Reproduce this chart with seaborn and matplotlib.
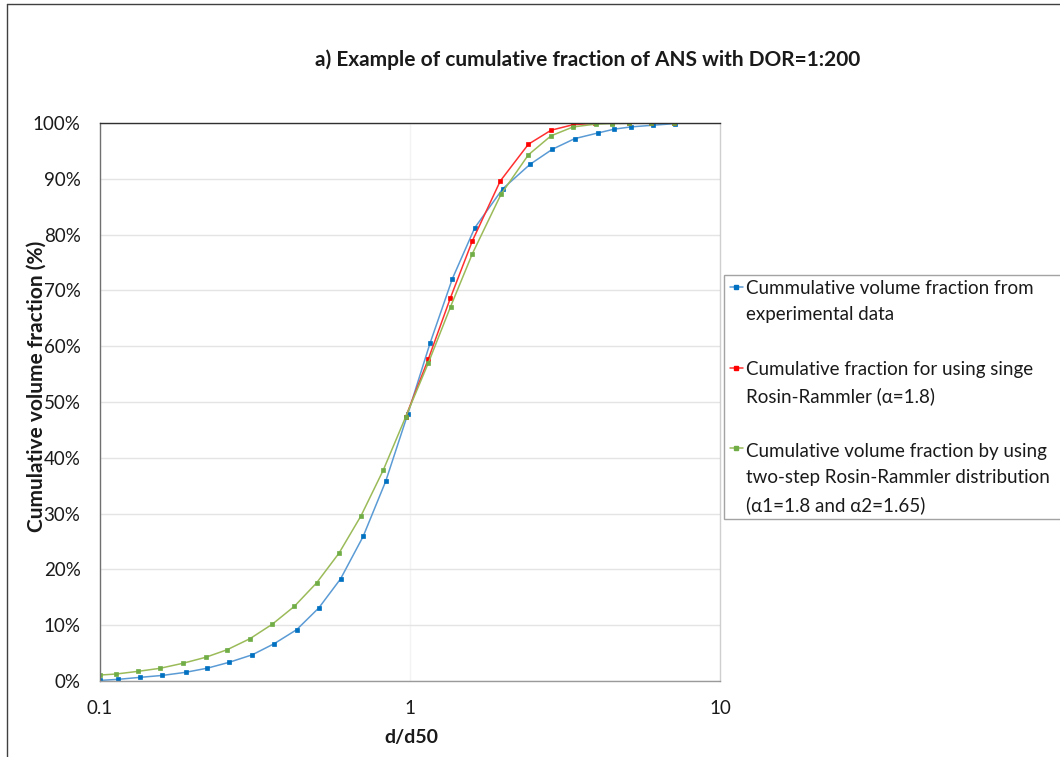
import matplotlib
matplotlib.use("Agg")
import matplotlib.pyplot as plt
from matplotlib.lines import Line2D
from matplotlib.legend_handler import HandlerLine2D
from matplotlib.ticker import FixedLocator, FuncFormatter, NullLocator
import numpy as np
import seaborn as sns
import pandas as pd

# d/d50 and cumulative volume fraction (%) for each series
exp_x = [0.1, 0.1145, 0.135, 0.159, 0.189, 0.222, 0.261, 0.310, 0.365, 0.431,
         0.508, 0.597, 0.706, 0.835, 0.983, 1.16, 1.37, 1.617, 1.99, 2.44,
         2.88, 3.40, 4.03, 4.56, 5.16, 6.08, 7.18]
exp_y = [0.1, 0.3, 0.66, 1.0, 1.56, 2.3, 3.35, 4.7, 6.7, 9.2,
         13.1, 18.3, 25.9, 35.8, 47.8, 60.5, 72.1, 81.2, 88.2, 92.6,
         95.3, 97.2, 98.2, 98.9, 99.3, 99.6, 99.9]

single_x = [0.968, 1.146, 1.349, 1.59, 1.955, 2.41, 2.85, 3.36, 3.95,
            4.49, 5.07, 5.97, 7.1]
single_y = [47.3, 57.7, 68.6, 78.9, 89.6, 96.2, 98.7, 99.7, 99.95,
            100.0, 100.0, 100.0, 100.0]

two_x = [0.1, 0.1127, 0.133, 0.156, 0.185, 0.219, 0.257, 0.305, 0.360, 0.424,
         0.500, 0.590, 0.695, 0.820, 0.968, 1.146, 1.352, 1.59, 1.965, 2.41,
         2.85, 3.36, 3.97, 4.49, 5.07, 5.97, 7.1]
two_y = [1.07, 1.25, 1.74, 2.27, 3.17, 4.24, 5.6, 7.6, 10.2, 13.4,
         17.6, 22.9, 29.6, 37.8, 47.3, 57.0, 67.1, 76.6, 87.2, 94.3,
         97.7, 99.3, 99.8, 99.9, 99.95, 100.0, 100.0]

labels = [
    "Cummulative volume fraction from\nexperimental data",
    "Cumulative fraction for using singe\nRosin-Rammler (\u03b1=1.8)",
    "Cumulative volume fraction by using\ntwo-step Rosin-Rammler distribution\n(\u03b11=1.8 and \u03b12=1.65)",
]
x_ticks = [0.1, 1, 10]
x_tick_labels = ["0.1", "1", "10"]
y_ticks = [0, 10, 20, 30, 40, 50, 60, 70, 80, 90, 100]

sns.set_theme(style="white")
plt.rcParams["font.family"] = ["Lato", "DejaVu Sans"]

FS = 13.5
LINESPACING = 1.65


class FirstLineHandler(HandlerLine2D):
    """Draws the legend key beside the first line of a multi-line label."""

    def __init__(self, nlines, **kw):
        super().__init__(**kw)
        self.nlines = nlines

    def create_artists(self, legend, orig_handle, xdescent, ydescent, width,
                       height, fontsize, trans):
        arts = super().create_artists(legend, orig_handle, xdescent, ydescent,
                                      width, height, fontsize, trans)
        shift = 0.5 * (self.nlines - 1) * fontsize * LINESPACING
        for a in arts:
            a.set_ydata(np.asarray(a.get_ydata(), dtype=float) + shift)
        return arts


fig = plt.figure(figsize=(10.6, 7.57), dpi=100)
W, H = 1060, 757
ax = fig.add_axes([100 / W, 1 - 681 / H, 620 / W, 558 / H])

series = [
    (exp_x, exp_y, "#5b9bd5", "#0070c0"),
    (single_x, single_y, "#ff3030", "#ff0000"),
    (two_x, two_y, "#9bbb59", "#70ad47"),
]
handles = []
for (xs, ys, lc, mc), lab in zip(series, labels):
    df = pd.DataFrame({"d": xs, "F": ys})
    sns.lineplot(data=df, x="d", y="F", ax=ax, sort=False, estimator=None,
                 color=lc, linewidth=1.1, marker="s", markersize=2.3,
                 markerfacecolor=mc, markeredgecolor=mc, markeredgewidth=0.5)
    handles.append(Line2D([0], [0], color=lc, linewidth=1.1, marker="s",
                          markersize=2.2, markerfacecolor=mc, markeredgecolor=mc))

ax.set_xscale("log")
ax.set_xlim(0.1, 10)
ax.set_ylim(0, 100)
ax.xaxis.set_major_locator(FixedLocator(x_ticks))
ax.xaxis.set_minor_locator(NullLocator())
ax.set_xticklabels(x_tick_labels)
ax.yaxis.set_major_locator(FixedLocator(y_ticks))
ax.yaxis.set_major_formatter(FuncFormatter(lambda v, p: f"{v:.0f}%"))
ax.tick_params(axis="both", length=0, labelsize=FS, colors="#1a1a1a")
ax.tick_params(axis="y", pad=14)
ax.tick_params(axis="x", pad=14)

ax.grid(axis="y", color="#e4e4e4", linewidth=1.0)
ax.axvline(1, color="#f3f3f3", linewidth=1.0, zorder=0)
ax.set_axisbelow(True)

ax.spines["top"].set_color("#303030")
ax.spines["left"].set_color("#707070")
ax.spines["bottom"].set_color("#9a9a9a")
ax.spines["right"].set_color("#cfcfcf")
for s in ax.spines.values():
    s.set_linewidth(1.0)

ax.set_xlabel("")
ax.set_ylabel("")
fig.text(411 / W, 1 - 738 / H, "d/d50", ha="center", va="center",
         fontsize=14, fontweight="bold", color="#1a1a1a")
fig.text(37 / W, 1 - 386 / H, "Cumulative volume fraction (%)", ha="center",
         va="center", rotation=90, fontsize=15, fontweight="bold", color="#1a1a1a")
fig.text(588 / W, 1 - 60 / H, "a) Example of cumulative fraction of ANS with DOR=1:200",
         ha="center", va="center", fontsize=15, fontweight="bold", color="#1a1a1a")

leg = ax.legend(handles, labels, loc="center left", mode="expand",
                bbox_to_anchor=(724 / W, 1 - 397 / H, 360 / W, 0),
                bbox_transform=fig.transFigure, fontsize=FS,
                handlelength=0.7, handletextpad=0.2, labelspacing=2.0,
                borderpad=0.3, borderaxespad=0, fancybox=False, frameon=True,
                handler_map={h: FirstLineHandler(lab.count("\n") + 1)
                             for h, lab in zip(handles, labels)})
leg.get_frame().set_edgecolor("#8c8c8c")
leg.get_frame().set_linewidth(1.0)
for t in leg.get_texts():
    t.set_linespacing(LINESPACING)
    t.set_color("#1a1a1a")

# outer chart border (top and left edges)
fig.add_artist(Line2D([7 / W, 1.0], [1 - 4 / H, 1 - 4 / H], transform=fig.transFigure,
                      color="#404040", linewidth=1.0))
fig.add_artist(Line2D([7 / W, 7 / W], [0, 1 - 4 / H], transform=fig.transFigure,
                      color="#404040", linewidth=1.0))

fig.savefig("out.png", dpi=100, facecolor="white")
